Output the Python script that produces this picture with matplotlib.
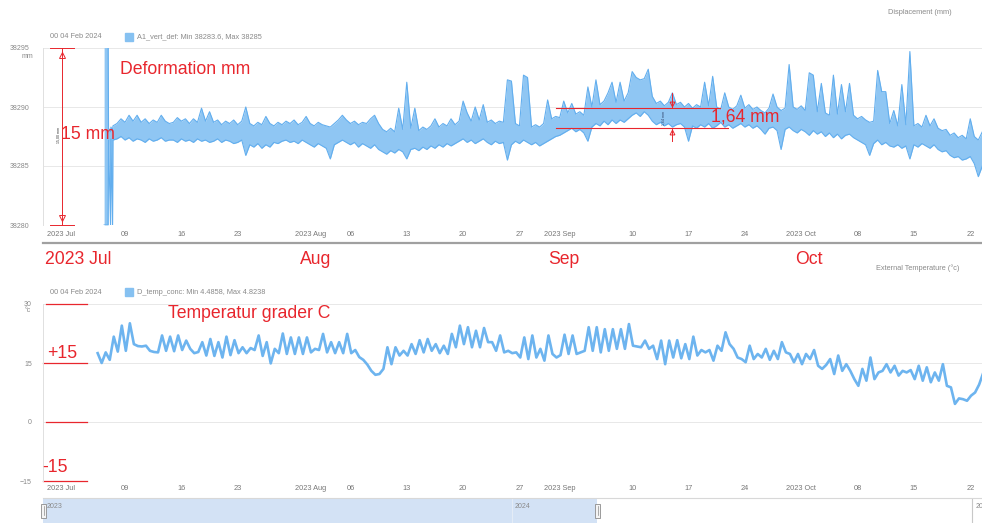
import numpy as np
import matplotlib
matplotlib.use('Agg')
import matplotlib.pyplot as plt
from matplotlib.patches import Rectangle
from matplotlib.lines import Line2D

plt.rcParams['font.family'] = ['Liberation Sans', 'DejaVu Sans']

# ---------------- data (days counted from 2023-07-01 00:00)
start = np.datetime64('2023-07-01T00:00')

# sensor glitch at the start of the deformation record
glitch_day = [5.4, 5.9, 5.95, 6.2, 6.25, 6.45, 6.5]
glitch_hi = [38296, 38296, 38288.2, 38287.9, 38288.3, 38288.0, 38288.4]
glitch_lo = [38280, 38280, 38287.2, 38280, 38287.3, 38280, 38287.2]

# A1_vert_def band, two samples a day from 7 Jul
def_day = np.arange(7.0, 115.0, 0.5)
def_hi = [
    38288.6, 38289.0, 38288.7, 38289.3, 38288.8, 38289.3, 38288.7, 38289.0, 38288.6, 38288.9, 38288.7, 38289.3, 38288.8, 38288.6,
    38288.7, 38289.1, 38288.8, 38289.0, 38288.6, 38289.0, 38288.7, 38289.9, 38288.8, 38289.6, 38288.7, 38288.9, 38288.5, 38288.8,
    38288.6, 38288.9, 38288.5, 38288.8, 38290.0, 38288.6, 38288.4, 38288.7, 38288.5, 38289.2, 38288.6, 38288.4, 38288.7, 38288.5,
    38288.8, 38288.6, 38288.9, 38288.5, 38288.7, 38289.2, 38288.6, 38288.4, 38288.7, 38288.5, 38288.4, 38288.3, 38288.6, 38288.9,
    38289.3, 38288.9, 38288.6, 38288.8, 38288.5, 38288.7, 38288.6, 38289.0, 38289.3, 38288.6, 38288.1, 38287.9, 38288.2, 38287.9,
    38289.9, 38288.1, 38292.1, 38288.2, 38289.9, 38288.0, 38288.3, 38288.1, 38288.4, 38289.0, 38288.3, 38288.6, 38288.4, 38289.0,
    38288.5, 38288.8, 38290.5, 38289.5, 38288.8, 38290.0, 38288.9, 38290.2, 38288.7, 38288.9, 38288.6, 38288.8, 38288.7, 38292.3,
    38292.2, 38288.6, 38288.4, 38292.7, 38292.5, 38288.3, 38288.5, 38288.3, 38288.6, 38290.6, 38289.0, 38289.2, 38289.1, 38290.5,
    38289.5, 38290.3, 38289.4, 38289.6, 38289.3, 38291.7, 38290.0, 38292.3, 38290.2, 38290.5, 38291.2, 38292.1, 38290.4, 38292.1,
    38290.5, 38291.2, 38293.0, 38292.5, 38292.3, 38292.4, 38293.2, 38290.9, 38290.3, 38290.5, 38290.1, 38290.4, 38291.2, 38290.2,
    38290.4, 38290.0, 38290.3, 38289.9, 38290.2, 38290.0, 38292.1, 38290.1, 38292.6, 38290.0, 38289.8, 38291.2, 38290.0, 38289.8,
    38290.1, 38291.0, 38289.9, 38290.2, 38289.8, 38290.0, 38289.7, 38289.5, 38289.9, 38291.1, 38290.0, 38289.7, 38289.9, 38293.6,
    38290.0, 38289.8, 38290.1, 38289.7, 38292.9, 38292.7, 38289.6, 38292.0, 38289.5, 38289.3, 38292.7, 38289.4, 38291.9, 38289.6,
    38292.0, 38289.3, 38289.0, 38289.2, 38288.9, 38288.7, 38288.8, 38293.1, 38291.3, 38291.3, 38288.6, 38289.7, 38288.4, 38291.9,
    38288.5, 38294.7, 38288.4, 38288.6, 38288.3, 38289.3, 38288.4, 38289.0, 38288.2, 38288.0, 38288.1, 38287.6, 38287.8, 38287.4,
    38287.6, 38287.3, 38289.0, 38287.5, 38287.2, 38287.9,
]
def_lo = [
    38287.3, 38287.5, 38287.2, 38287.4, 38287.1, 38287.3, 38287.2, 38287.0, 38287.3, 38287.1, 38287.2, 38287.4, 38287.1, 38287.2,
    38287.2, 38287.0, 38287.3, 38287.1, 38287.2, 38287.0, 38287.3, 38287.1, 38287.2, 38287.0, 38287.1, 38287.3, 38287.0, 38287.2,
    38287.1, 38286.9, 38287.0, 38287.2, 38285.9, 38286.8, 38286.6, 38286.9, 38286.5, 38286.8, 38286.6, 38287.0, 38286.9, 38287.1,
    38287.2, 38287.0, 38287.1, 38286.9, 38287.2, 38287.0, 38286.8, 38286.6, 38286.9, 38286.7, 38286.5, 38285.6, 38286.8, 38287.0,
    38287.2, 38287.0, 38286.8, 38287.0, 38286.6, 38286.9, 38286.7, 38286.5, 38286.8, 38286.4, 38286.2, 38286.0, 38286.3, 38286.1,
    38286.4, 38286.2, 38285.6, 38286.4, 38286.5, 38286.3, 38286.6, 38286.4, 38286.7, 38286.5, 38286.8, 38286.6, 38286.9, 38286.7,
    38286.9, 38287.1, 38287.3, 38287.0, 38287.2, 38286.9, 38287.1, 38287.3, 38287.0, 38286.8, 38287.1, 38286.9, 38287.0, 38285.5,
    38286.8, 38287.1, 38286.9, 38287.2, 38287.0, 38286.8, 38287.0, 38286.7, 38286.9, 38287.1, 38287.3, 38287.5, 38287.6, 38287.8,
    38288.0, 38288.2, 38287.9, 38288.1, 38287.8, 38287.1, 38288.3, 38288.6, 38288.4, 38288.8, 38288.5, 38288.9, 38288.6, 38288.9,
    38288.7, 38289.0, 38289.3, 38289.5, 38289.2, 38289.6, 38289.3, 38288.8, 38288.5, 38288.7, 38288.4, 38288.6, 38288.3, 38288.5,
    38288.6, 38288.3, 38287.1, 38288.4, 38288.2, 38288.5, 38288.3, 38288.6, 38288.2, 38288.4, 38288.7, 38288.3, 38288.5, 38288.2,
    38288.4, 38288.6, 38288.3, 38288.5, 38288.2, 38288.4, 38288.1, 38287.7, 38288.2, 38288.3, 38288.0, 38286.4, 38288.1, 38288.3,
    38288.0, 38287.8, 38288.1, 38287.9, 38287.6, 38288.0, 38287.7, 38287.9, 38287.5, 38287.8, 38287.4, 38287.7, 38287.3, 38287.6,
    38287.7, 38287.4, 38287.2, 38287.0, 38286.8, 38285.9, 38286.9, 38287.2, 38286.8, 38287.0, 38286.7, 38286.6, 38286.8, 38286.5,
    38286.7, 38285.6, 38286.8, 38286.6, 38286.9, 38286.7, 38286.5, 38286.8, 38286.4, 38286.2, 38286.3, 38285.9, 38285.7, 38285.8,
    38285.5, 38285.6, 38285.8, 38285.2, 38284.1, 38285.0,
]

# D_temp_conc (°C), night / afternoon samples
temp_day = np.arange(4.6, 114.65, 0.5)
temp = [
    17.5,
    15.0, 17.7, 15.8, 21.7, 17.9, 24.5, 18.1, 25.1, 19.8, 19.3, 19.2, 19.4, 18.1, 17.8, 17.7, 22.0, 18.1, 21.7, 18.0, 22.0,
    18.3, 20.7, 18.6, 17.5, 17.8, 20.3, 16.9, 21.1, 16.8, 20.3, 16.4, 21.7, 17.0, 20.8, 17.5, 19.0, 17.5, 18.8, 18.3, 22.0,
    16.8, 20.3, 14.9, 18.6, 17.5, 22.5, 17.3, 21.5, 17.3, 21.5, 17.3, 21.5, 17.7, 18.6, 18.3, 22.4, 17.7, 20.3, 17.5, 20.3,
    17.5, 22.4, 17.5, 18.3, 16.5, 15.8, 14.6, 13.0, 12.0, 12.2, 13.5, 19.0, 14.7, 19.0, 16.9, 18.1, 16.9, 19.8, 17.3, 20.8,
    17.7, 21.1, 18.1, 19.8, 17.5, 19.4, 17.3, 22.4, 19.0, 24.5, 19.8, 24.1, 19.0, 23.2, 19.0, 23.9, 20.3, 20.3, 18.1, 22.0,
    17.7, 18.1, 17.5, 17.7, 16.4, 21.5, 16.0, 22.0, 16.4, 18.6, 15.6, 22.0, 17.3, 16.4, 17.0, 22.2, 17.3, 22.0, 17.3, 17.7,
    18.1, 24.1, 18.1, 24.1, 17.7, 23.6, 18.1, 23.6, 18.6, 23.6, 18.6, 24.9, 19.4, 19.2, 19.0, 20.7, 18.6, 19.4, 16.0, 20.7,
    14.7, 20.7, 16.4, 20.8, 16.2, 19.8, 16.0, 21.7, 16.9, 18.3, 17.7, 18.3, 15.6, 19.4, 18.1, 22.8, 19.8, 18.6, 16.4, 16.0,
    15.2, 19.4, 16.0, 17.3, 16.4, 18.6, 15.8, 18.1, 16.0, 20.3, 17.7, 17.3, 15.2, 17.3, 14.7, 17.3, 16.0, 18.3, 14.3, 13.5,
    14.5, 16.0, 12.2, 16.9, 13.0, 14.7, 13.0, 10.9, 9.2, 13.5, 10.5, 16.4, 10.9, 12.6, 13.0, 14.7, 12.6, 14.3, 11.8, 13.0,
    12.6, 13.2, 10.9, 14.3, 10.5, 13.9, 10.1, 12.6, 10.5, 14.7, 9.2, 8.8, 4.6, 6.0, 5.8, 5.4, 6.7, 7.5, 9.5, 12.4,
]

tick_dates = ['2023-07-01', '2023-07-09', '2023-07-16', '2023-07-23', '2023-08-01', '2023-08-06',
              '2023-08-13', '2023-08-20', '2023-08-27', '2023-09-01', '2023-09-10', '2023-09-17',
              '2023-09-24', '2023-10-01', '2023-10-08', '2023-10-15', '2023-10-22']
tick_labels = ['2023 Jul', '09', '16', '23', '2023 Aug', '06', '13', '20', '27', '2023 Sep',
               '10', '17', '24', '2023 Oct', '08', '15', '22']

# measured annotations
dim_top, dim_bottom = 38295, 38280
band_top, band_bottom = 38289.89, 38288.25

# ---------------- helpers
W, H = 982, 523
red = '#e8262d'
blue_fill = '#8fc6f3'
blue_line = '#62aeee'
grey_txt = '#8a8a8a'


def fx(x):
    return x / W


def fy(y):
    return 1 - y / H


def to_dates(days):
    mins = np.round(np.asarray(days, dtype=float) * 1440).astype('int64')
    return start + mins.astype('timedelta64[m]')


def style_axis(ax, pad):
    ax.set_xlim(to_dates(-2.19), to_dates(114.46))
    ax.set_xticks(np.array(tick_dates, dtype='datetime64[m]'))
    ax.set_xticklabels(tick_labels)
    ax.tick_params(axis='x', length=0, labelsize=5.3, colors='#777777', pad=pad)
    ax.tick_params(axis='y', length=0, labelsize=5, colors='#888888')
    ax.yaxis.grid(True, color='#e8e8e8', lw=0.7)
    ax.set_axisbelow(True)
    for s in ['top', 'right', 'bottom']:
        ax.spines[s].set_visible(False)
    ax.spines['left'].set_color('#e0e0e0')
    ax.spines['left'].set_linewidth(0.7)


fig = plt.figure(figsize=(9.82, 5.23), dpi=100)
fig.patch.set_facecolor('white')

# ---------------- top panel: deformation
ax1 = fig.add_axes([fx(43), fy(225), 1 - fx(43), (225 - 48) / H])
t_def = to_dates(np.concatenate([glitch_day, def_day]))
hi = np.concatenate([glitch_hi, def_hi])
lo = np.concatenate([glitch_lo, def_lo])
ax1.fill_between(t_def, lo, hi, color=blue_fill, lw=0)
ax1.plot(t_def, hi, color=blue_line, lw=0.8)
ax1.plot(t_def, lo, color=blue_line, lw=0.8)
ax1.set_ylim(38280, 38295)
ax1.set_yticks([38280, 38285, 38290, 38295])
style_axis(ax1, 4.6)
ax1.tick_params(axis='y', pad=10)

# 15 mm dimension line
dx = to_dates(0.17)
ax1.plot([dx, dx], [dim_bottom, dim_top], color=red, lw=0.7, clip_on=False)
for yv in (dim_top, dim_bottom):
    ax1.plot(to_dates([-1.3, 1.6]), [yv, yv], color=red, lw=0.7, clip_on=False)
ax1.plot(dx, dim_top - 0.6, marker='^', ms=4, mfc='none', mec=red, mew=0.7)
ax1.plot(dx, dim_bottom + 0.6, marker='v', ms=4, mfc='none', mec=red, mew=0.7)
ax1.text(to_dates(-0.05), 38287.6, '15,00 mm', rotation=90, fontsize=2.6, color='#333333',
         ha='right', va='center')

# 1,64 mm band
ax1.plot(to_dates([61.54, 81.9]), [band_top, band_top], color=red, lw=0.8)
ax1.plot(to_dates([61.54, 82.9]), [band_bottom, band_bottom], color=red, lw=0.8)
ax_x = to_dates(75.95)
ax1.plot([ax_x, ax_x], [band_top, band_top + 1.3], color=red, lw=0.7)
ax1.plot([ax_x, ax_x], [band_bottom - 1.1, band_bottom], color=red, lw=0.7)
ax1.plot(ax_x, band_top + 0.35, marker='v', ms=3.5, mfc='none', mec=red, mew=0.7)
ax1.plot(ax_x, band_bottom - 0.35, marker='^', ms=3.5, mfc='none', mec=red, mew=0.7)
ax1.text(to_dates(74.9), (band_top + band_bottom) / 2, '1,64 mm', rotation=90, fontsize=2.6,
         color='#2c3e66', ha='center', va='center')

# ---------------- bottom panel: temperature
ax2 = fig.add_axes([fx(43), fy(481), 1 - fx(43), (481 - 304) / H])
ax2.plot(to_dates(temp_day), temp, color='#6db4ef', lw=1.9, solid_joinstyle='round')
ax2.set_ylim(-15, 30)
ax2.set_yticks([-15, 0, 15, 30])
style_axis(ax2, 3.2)
ax2.tick_params(axis='y', pad=8)
for yv, x0 in [(30, 0.0035), (15, 0.0), (0, 0.0035), (-15, 0.0)]:
    ax2.axhline(yv, xmin=x0, xmax=0.047, color=red, lw=0.9, clip_on=False)

# ---------------- header texts
fig.text(fx(888), fy(13), 'Displacement (mm)', fontsize=5.3, color=grey_txt, va='center')
fig.text(fx(876), fy(268), 'External Temperature (°c)', fontsize=5.3, color=grey_txt, va='center')
for yy, name in [(37, 'A1_vert_def: Min 38283.6, Max 38285'),
                 (292, 'D_temp_conc: Min 4.4858, Max 4.8238')]:
    fig.text(fx(50), fy(yy), '00 04 Feb 2024', fontsize=5.3, color=grey_txt, va='center')
    fig.add_artist(Rectangle((fx(125), fy(yy + 4)), fx(8), 8 / H, color='#86c1f1',
                             transform=fig.transFigure))
    fig.text(fx(137), fy(yy), name, fontsize=5.3, color=grey_txt, va='center')
fig.text(fx(22), fy(56), 'mm', fontsize=5, color='#888888', va='center')
fig.text(fx(25), fy(311), '°c', fontsize=5, color='#888888', va='center')

# separator between the two panels
fig.add_artist(Line2D([fx(43), 1], [fy(243), fy(243)], color='#a0a0a0', lw=1.6))

# red annotations
big = 12.7
fig.text(fx(120), fy(70), 'Deformation mm', fontsize=big, color=red, va='center')
fig.text(fx(61), fy(135), '15 mm', fontsize=big, color=red, va='center')
fig.text(fx(711), fy(117), '1,64 mm', fontsize=big, color=red, va='center')
for xx, lab in [(45, '2023 Jul'), (300, 'Aug'), (548, 'Sep'), (795, 'Oct')]:
    fig.text(fx(xx), fy(260), lab, fontsize=big, color=red, va='center')
fig.text(fx(168), fy(314), 'Temperatur grader C', fontsize=big, color=red, va='center')
fig.text(fx(47), fy(353), '+15', fontsize=big, color=red, va='center')
fig.text(fx(42), fy(467), '-15', fontsize=big, color=red, va='center')

# ---------------- navigator strip
nav = fig.add_axes([fx(43), -0.03, 1 - fx(43), (523 - 498) / H + 0.03])
nav.set_xlim(-373.2, 374.0)   # days from 2024-01-01
nav.set_ylim(0, 1)
nav.axis('off')
nav.axvspan(-373.2, 67.6, color='#d3e2f5', lw=0)
nav.axvline(0, color='#e4ecf6', lw=0.8)
nav.axvline(366, color='#c8c8c8', lw=0.8)
nav.axhline(1, color='#d8d8d8', lw=0.8, clip_on=False)
nav.text(0.004, 0.78, '2023', transform=nav.transAxes, fontsize=5, color=grey_txt, va='center')
nav.text(2, 0.78, '2024', fontsize=5, color=grey_txt, va='center')
nav.text(369, 0.78, '2025', fontsize=5, color=grey_txt, va='center', clip_on=False)
for hx in (41, 595):
    fig.add_artist(Rectangle((fx(hx), fy(518)), fx(5), 14 / H, facecolor='#f4f4f4',
                             edgecolor='#8c8c8c', lw=0.6, transform=fig.transFigure))
    fig.add_artist(Line2D([fx(hx + 2.5)] * 2, [fy(515), fy(506)], color='#8c8c8c', lw=0.5))

fig.savefig('out.png', dpi=100)
